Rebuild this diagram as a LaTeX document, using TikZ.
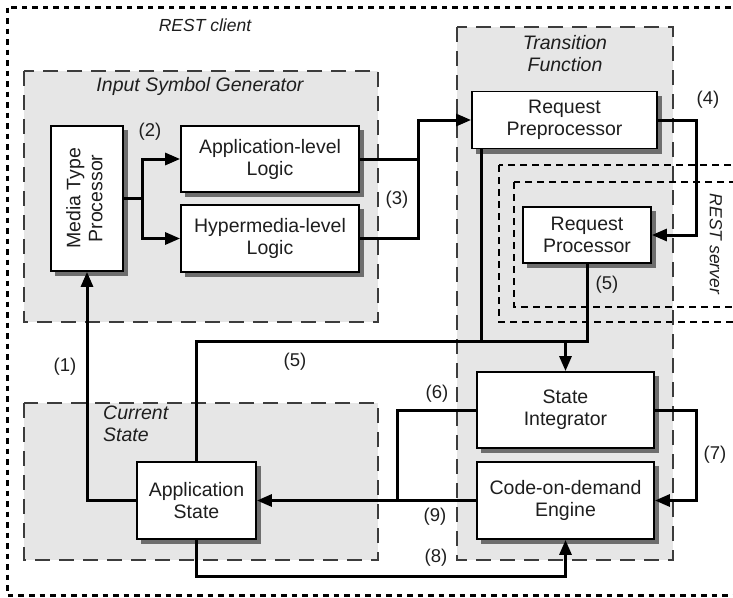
\documentclass[tikz,border=0pt]{standalone}
\usepackage{fontspec}
\setmainfont{Liberation Sans}
\usetikzlibrary{arrows.meta,calc}
\newcommand\boxfont{\fontsize{19.5}{22}\selectfont}
\newcommand\numfont{\fontsize{18.5}{21}\selectfont}
\newcommand\grpfont{\fontsize{19.5}{22}\selectfont\itshape}
\newcommand\sysfont{\fontsize{17.5}{20}\selectfont\itshape}
\definecolor{grpfill}{HTML}{E6E6E6}
\definecolor{grpline}{HTML}{3C3C3C}
\definecolor{shadowcol}{HTML}{6E6E6E}
\definecolor{txt}{HTML}{1E1E1E}
\tikzset{
  box/.style={draw=black, line width=1.8pt, fill=white, align=center,
    inner sep=0pt, font=\boxfont, text=txt},
  shadowbox/.style={fill=shadowcol, draw=shadowcol, line width=1pt},
  conn/.style={line width=3pt, line join=miter},
  arr/.style={conn, -{Triangle[length=15pt,width=12pt]}},
  grp/.style={fill=grpfill, draw=none},
  grpborder/.style={draw=grpline, line width=1.6pt, dash pattern=on 15pt off 9pt},
  sysborder/.style={draw=black, line width=3pt, dash pattern=on 5.5pt off 5pt},
  srvborder/.style={draw=black, line width=2.6pt, dash pattern=on 7pt off 5pt},
  num/.style={font=\numfont, text=txt, inner sep=0pt},
  grptitle/.style={font=\grpfont, text=txt, inner sep=0pt, align=center},
}
% a block with its drop shadow: name, centre x, centre y, width, height, text
\newcommand\procblock[6]{%
  \node[shadowbox, minimum width=#4pt, minimum height=#5pt] (#1shadow) at (#2+4.5,#3+4.5) {};
  \node[box, minimum width=#4pt, minimum height=#5pt] (#1) at (#2,#3) {#6};}
\begin{document}
\begin{tikzpicture}[x=1pt, y=-1pt]
\useasboundingbox (0,0) rectangle (733,597);

\begin{scope}
\clip (0,0) rectangle (733,597);
% REST client boundary
\draw[sysborder] (7.5,7.5) rectangle (800,595);
% group backgrounds
\fill[grp] (24,71) rectangle (378,322);
\fill[grp] (24,403) rectangle (378,560);
\fill[grp] (457,27) rectangle (673,560);
% REST server boundaries
\draw[srvborder] (499,165) rectangle (800,322);
\draw[srvborder] (514,182) rectangle (800,307);
% group borders
\draw[grpborder] (24,71) rectangle (378,322);
\draw[grpborder] (24,403) rectangle (378,560);
\draw[grpborder] (457,27) rectangle (673,560);
\end{scope}

\node[font=\sysfont, text=txt, inner sep=0pt] (clientlbl) at (205,25) {REST client};
\node[font=\sysfont, text=txt, inner sep=0pt, rotate=-90] (serverlbl) at (716,244) {REST server};

\node[grptitle] (isgT) at (200,86) {Input Symbol Generator};
\node[grptitle, align=left, anchor=north west] (csT) at (103,406) {Current\\State};
\node[grptitle] (tfT) at (565,54) {Transition\\Function};

% processing blocks
\procblock{mtp}{87}{198.5}{72}{145}
  {\rotatebox{90}{\begin{tabular}{@{}c@{}}Media Type\\Processor\end{tabular}}}
\procblock{al}{270}{159}{178}{66}{Application-level\\Logic}
\procblock{hl}{270}{238.5}{178}{67}{Hypermedia-level\\Logic}
\procblock{rpre}{564.5}{120}{185}{57}{Request\\Preprocessor}
\procblock{rp}{587}{235}{128}{56}{Request\\Processor}
\procblock{si}{565.5}{410}{177}{76}{State\\Integrator}
\procblock{cod}{565.5}{500.5}{177}{77}{Code-on-demand\\Engine}
\procblock{as}{196.5}{500.5}{119}{77}{Application\\State}

% routing points
\coordinate (j2) at (142,198.5);
\coordinate (j3) at (418,159);
\coordinate (j4) at (696,120);
\coordinate (j5) at (587,341);
\coordinate (j5r) at (481,341);
\coordinate (j6) at (397,410);
\coordinate (j7) at (696,410);
\coordinate (j8) at (565.5,576);

% (1)
\draw[arr] (as.west) -| (mtp.south);
% (2)
\draw[conn] (mtp.east) -- (j2);
\draw[arr] (j2) |- (al.west);
\draw[arr] (j2) |- (hl.west);
% (3)
\draw[conn] (al.east) -- (j3);
\draw[arr] (j3) |- (rpre.west);
\draw[conn] (hl.east) -| (j3);
% (4)
\draw[arr] (rpre.east) -- (j4) |- (rp.east);
% (5)
\draw[conn] (as.north) |- (j5) -- (rp.south);
\draw[conn] (j5r |- rpre.south) -- (j5r);
\draw[arr] (si.north |- j5) -- (si.north);
% (6) and (9)
\draw[conn] (si.west) -- (j6) -- (j6 |- as.east);
\draw[arr] (cod.west) -- (as.east);
% (7)
\draw[arr] (si.east) -- (j7) |- (cod.east);
% (8)
\draw[arr] (as.south) |- (j8) -- (cod.south);

% step numbers
\node[num] (n1) at (65,367) {(1)};
\node[num] (n2) at (150,132) {(2)};
\node[num] (n3) at (397,200) {(3)};
\node[num] (n4) at (708,100) {(4)};
\node[num] (n5a) at (607,285) {(5)};
\node[num] (n5b) at (295,362) {(5)};
\node[num] (n6) at (437,394) {(6)};
\node[num] (n7) at (715,455) {(7)};
\node[num] (n8) at (436,558) {(8)};
\node[num] (n9) at (435,517) {(9)};
\end{tikzpicture}
\end{document}
